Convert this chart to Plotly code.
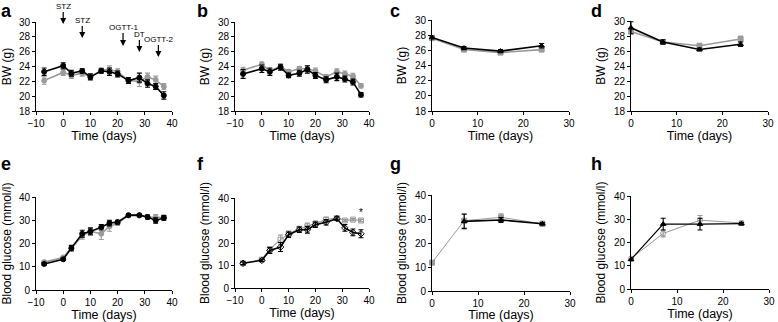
import plotly.graph_objects as go

# ---------------- data ----------------
days_long = [-7, 0, 3, 7, 10, 14, 17, 20, 24, 28, 31, 34, 37]
days_short = [0, 7, 15, 24]

a_black = [23.3, 24.1, 23.1, 23.4, 22.6, 23.4, 23.3, 23.0, 22.1, 22.5, 21.7, 21.3, 20.1]
a_black_err = [0.5, 0.4, 0.4, 0.3, 0.4, 0.3, 0.5, 0.4, 0.4, 0.6, 0.5, 0.4, 0.5]
a_gray = [22.1, 23.2, 22.8, 23.1, 22.6, 23.5, 23.6, 23.3, 22.1, 22.0, 22.6, 22.2, 21.3]
a_gray_err = [0.5, 0.4, 0.4, 0.4, 0.3, 0.3, 0.5, 0.4, 0.4, 0.7, 0.5, 0.5, 0.4]

b_black = [23.0, 23.7, 23.3, 23.9, 22.8, 23.1, 23.6, 22.8, 22.2, 22.6, 22.3, 21.9, 20.2]
b_black_err = [0.6, 0.5, 0.5, 0.4, 0.3, 0.4, 0.5, 0.4, 0.4, 0.5, 0.4, 0.4, 0.3]
b_gray = [23.5, 24.3, 23.4, 24.0, 23.3, 23.7, 23.7, 23.4, 22.6, 23.3, 23.0, 22.7, 21.4]
b_gray_err = [0.4, 0.3, 0.3, 0.3, 0.3, 0.3, 0.4, 0.4, 0.3, 0.4, 0.4, 0.4, 0.3]

c_black = [27.7, 26.3, 25.9, 26.6]
c_black_err = [0.2, 0.2, 0.2, 0.3]
c_gray = [27.6, 26.1, 25.7, 26.1]
c_gray_err = [0.2, 0.2, 0.2, 0.2]

d_black = [29.1, 27.2, 26.2, 26.9]
d_black_err = [0.8, 0.3, 0.2, 0.3]
d_gray = [28.6, 27.2, 26.7, 27.6]
d_gray_err = [0.3, 0.3, 0.3, 0.4]

e_black = [11.2, 13.2, 18.0, 24.2, 25.2, 27.0, 28.8, 29.2, 32.2, 32.2, 31.4, 29.9, 31.0]
e_black_err = [0.6, 0.5, 1.2, 1.5, 1.5, 1.2, 1.2, 0.8, 0.5, 0.5, 0.8, 1.2, 1.0]
e_gray = [12.0, 14.0, 18.0, 23.3, 25.2, 24.2, 27.3, 28.8, 32.0, 32.0, 31.4, 31.2, 31.2]
e_gray_err = [0.6, 0.5, 1.0, 1.5, 1.2, 2.5, 2.0, 1.0, 0.5, 0.5, 0.8, 1.2, 1.0]

f_black = [11.0, 12.3, 16.7, 18.2, 23.7, 25.9, 25.9, 28.1, 29.2, 30.8, 26.7, 24.7, 24.1]
f_black_err = [0.6, 0.5, 1.3, 2.0, 1.2, 1.2, 1.5, 1.2, 1.2, 0.8, 1.5, 1.5, 1.8]
f_gray = [11.0, 12.6, 17.3, 21.5, 24.1, 26.2, 27.4, 28.6, 30.4, 31.1, 30.0, 30.4, 30.0]
f_gray_err = [0.6, 0.5, 1.0, 2.0, 1.2, 1.2, 1.5, 1.2, 1.0, 0.8, 0.5, 0.5, 0.5]

g_days_black = [7, 15, 24]
g_black = [29.0, 29.6, 28.0]
g_black_err = [3.0, 1.0, 0.5]
g_gray = [11.8, 29.3, 30.7, 28.0]
g_gray_err = [0.5, 3.0, 1.5, 1.0]

h_black = [12.7, 27.9, 27.9, 28.1]
h_black_err = [0.5, 2.5, 2.5, 0.5]
h_gray = [13.1, 23.9, 29.6, 28.4]
h_gray_err = [0.5, 1.5, 2.0, 0.8]

events = ["STZ", "STZ", "OGTT-1", "DT", "OGTT-2"]
event_days = [0, 7, 22, 28, 35]

BLACK = "#000000"
GRAY = "#9a9a9a"
FONT = "Liberation Sans, Arial, sans-serif"

fig = go.Figure()

panels = [
    # name, xdomain px, ydomain px, xrange, yrange, dtick_y, ytitle
    ("a", [36, 172], [22, 111], [-10, 40], [18, 30], 2, "BW (g)"),
    ("b", [235, 369], [22, 111], [-10, 40], [18, 30], 2, "BW (g)"),
    ("c", [432, 569], [20, 111], [0, 30], [18, 30], 2, "BW (g)"),
    ("d", [631, 768], [21, 111], [0, 30], [18, 30], 2, "BW (g)"),
    ("e", [36, 172], [197, 290], [-10, 40], [0, 40], 10, "Blood glucose (mmol/l)"),
    ("f", [235, 369], [198, 288], [-10, 40], [0, 40], 10, "Blood glucose (mmol/l)"),
    ("g", [432, 570], [195, 291], [0, 30], [0, 40], 10, "Blood glucose (mmol/l)"),
    ("h", [631, 769], [196, 289], [0, 30], [0, 40], 10, "Blood glucose (mmol/l)"),
]
W, H = 778, 322

def add_series(i, x, y, err, color, symbol, lw=1.6, msize=5, mfill=None):
    ax = "" if i == 1 else str(i)
    fig.add_trace(go.Scatter(
        x=x, y=y, mode="lines+markers",
        line=dict(color=color, width=lw),
        marker=dict(color=mfill if mfill else color, size=msize, symbol=symbol,
                    line=dict(color=color, width=1)),
        error_y=dict(type="data", array=err, color=color, thickness=1.1, width=2.5),
        xaxis="x" + ax, yaxis="y" + ax, showlegend=False, cliponaxis=False))

layout_axes = {}
for i, (name, xd, yd, xr, yr, dt, yt) in enumerate(panels, start=1):
    sfx = "" if i == 1 else str(i)
    layout_axes["xaxis" + sfx] = dict(
        domain=[xd[0] / W, xd[1] / W], range=xr, dtick=10, anchor="y" + sfx,
        showline=True, linecolor="black", linewidth=1, showgrid=False, zeroline=False,
        ticks="outside", ticklen=3, tickcolor="black", automargin=False,
        tickfont=dict(family=FONT, size=10, color="black"),
        title=dict(text="Time (days)", font=dict(family=FONT, size=12.5, color="black"), standoff=1),
        fixedrange=True)
    layout_axes["yaxis" + sfx] = dict(
        domain=[1 - yd[1] / H, 1 - yd[0] / H], range=yr, dtick=dt, anchor="x" + sfx,
        showline=True, linecolor="black", linewidth=1, showgrid=False, zeroline=False,
        ticks="outside", ticklen=3, tickcolor="black", automargin=False,
        tickfont=dict(family=FONT, size=10, color="black"),
        title=dict(text=yt, font=dict(family=FONT, size=12, color="black"), standoff=5),
        fixedrange=True)

# series
add_series(1, days_long, a_gray, a_gray_err, GRAY, "circle")
add_series(1, days_long, a_black, a_black_err, BLACK, "circle")
add_series(2, days_long, b_gray, b_gray_err, GRAY, "circle")
add_series(2, days_long, b_black, b_black_err, BLACK, "circle")
add_series(3, days_short, c_gray, c_gray_err, GRAY, "square")
add_series(3, days_short, c_black, c_black_err, BLACK, "triangle-up")
add_series(4, days_short, d_gray, d_gray_err, GRAY, "square")
add_series(4, days_short, d_black, d_black_err, BLACK, "triangle-up")
add_series(5, days_long, e_gray, e_gray_err, GRAY, "circle")
add_series(5, days_long, e_black, e_black_err, BLACK, "circle")
add_series(6, days_long, f_gray, f_gray_err, GRAY, "square-open", lw=1.2, msize=5)
add_series(6, days_long, f_black, f_black_err, BLACK, "diamond-open", lw=1.6, msize=5)
add_series(7, days_short, g_gray, g_gray_err, GRAY, "square", lw=1.0)
add_series(7, g_days_black, g_black, g_black_err, BLACK, "triangle-up", lw=1.6)
add_series(8, days_short, h_gray, h_gray_err, GRAY, "circle-open", lw=1.0)
add_series(8, days_short, h_black, h_black_err, BLACK, "triangle-up", lw=1.2)

annotations = []
# panel letters
letter_pos = {"a": (0, 0), "b": (196, 0), "c": (389, 0), "d": (590, 0),
              "e": (0, 153), "f": (196, 153), "g": (389, 153), "h": (590, 153)}
for name, (px, py) in letter_pos.items():
    annotations.append(dict(text="<b>%s</b>" % name, x=px / W, y=1 - py / H, xref="paper", yref="paper",
                            xanchor="left", yanchor="top", showarrow=False, borderpad=0,
                            font=dict(family=FONT, size=18, color=BLACK)))

# event arrows in panel a: (head pixel y, text pixel y)
arrow_px = [(24, 6), (38, 20), (46, 27), (52, 34), (57, 39)]
for lab, d, (hy, ty) in zip(events, event_days, arrow_px):
    yhead = 30 - (hy - 22) / (89 / 12)
    annotations.append(dict(text=lab, x=d, y=yhead, xref="x", yref="y", showarrow=True,
                            ax=0, ay=-(hy - ty), arrowhead=2, arrowsize=1, arrowwidth=1.2,
                            arrowcolor=BLACK, standoff=0,
                            font=dict(family=FONT, size=8, color=BLACK)))

annotations.append(dict(text="*", x=37, y=33.5, xref="x6", yref="y6", showarrow=False,
                        font=dict(family=FONT, size=10, color=BLACK)))

fig.update_layout(
    template="none",
    width=W, height=H, margin=dict(l=0, r=0, t=0, b=0, autoexpand=False),
    paper_bgcolor="white", plot_bgcolor="white",
    font=dict(family=FONT, color=BLACK),
    annotations=annotations, **layout_axes)

fig.write_html("out.html", config={"displayModeBar": False, "staticPlot": True},
               post_script="document.body.style.margin='0';document.body.style.overflow='hidden';")
